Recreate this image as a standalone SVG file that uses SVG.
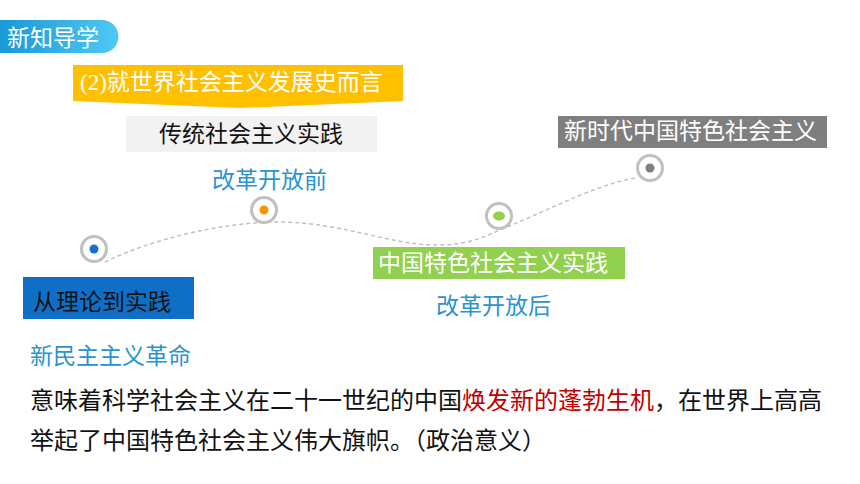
<svg xmlns="http://www.w3.org/2000/svg" width="860" height="484" viewBox="0 0 860 484">
<defs>
<linearGradient id="tabg" x1="0" y1="0" x2="1" y2="0">
<stop offset="0" stop-color="#1a98d8"/>
<stop offset="1" stop-color="#4fc9f3"/>
</linearGradient>
<style>
.t{font-family:"Noto Sans CJK SC","Noto Sans",sans-serif;font-size:23px}
.w{fill:#ffffff}
.k{fill:#111111}
.b{fill:#2a93d0}
.ring{fill:#ffffff;stroke:#c0c0c0;stroke-width:3}
.conn{fill:none;stroke:#c0c0c0;stroke-width:1.5;stroke-dasharray:4 3}
</style>
</defs>
<rect width="860" height="484" fill="#ffffff"/>
<g id="tab">
<path d="M0,20 H102 A16.5,16.5 0 0 1 102,53 H0 Z" fill="url(#tabg)"/>
<text class="t w" x="7" y="46">新知导学</text>
</g>
<g id="banner">
<path d="M73,65 H403 V101 L240,108 L73,101 Z" fill="#ffc000"/>
<text class="t w" x="80" y="90"><tspan font-family="Liberation Serif, serif">(2)</tspan>就世界社会主义发展史而言</text>
</g>
<g id="connectors">
<path class="conn" d="M105,262 C150,240 220,222 280,222 C340,222 390,245 437,245 C470,245 485,236 500,230 C560,205 600,183 637,178"/>
</g>
<g id="node-traditional">
<rect x="126" y="116" width="251" height="36" fill="#f2f2f2"/>
<text class="t k" x="159" y="142">传统社会主义实践</text>
<text class="t b" x="212" y="188">改革开放前</text>
<circle class="ring" cx="264" cy="210" r="12.5"/>
<circle cx="264" cy="210" r="4.5" fill="#f39800"/>
</g>
<g id="node-theory">
<circle class="ring" cx="94" cy="249" r="12.5"/>
<circle cx="94" cy="249" r="4.5" fill="#1a6fc9"/>
<rect x="23" y="277" width="171" height="42" fill="#0f6fc6"/>
<text class="t k" x="33" y="310">从理论到实践</text>
</g>
<g id="node-chinese">
<circle class="ring" cx="499" cy="216" r="12.5"/>
<ellipse cx="499" cy="216" rx="6" ry="4.5" fill="#92d050"/>
<rect x="373" y="247" width="252" height="32" fill="#92d050"/>
<text class="t w" x="378" y="271">中国特色社会主义实践</text>
<text class="t b" x="436" y="314">改革开放后</text>
</g>
<g id="node-newera">
<rect x="558" y="116" width="269" height="32" fill="#7f7f7f"/>
<text class="t w" x="564" y="139">新时代中国特色社会主义</text>
<circle class="ring" cx="650" cy="168" r="12.5"/>
<circle cx="650" cy="168" r="4.5" fill="#7f7f7f"/>
</g>
<g id="body">
<text class="t b" x="30" y="364">新民主主义革命</text>
<text class="t k" x="30" y="409" style="font-size:24px">意味着科学社会主义在二十一世纪的中国<tspan fill="#c00000">焕发新的蓬勃生机</tspan>，在世界上高高</text>
<text class="t k" x="30" y="449" style="font-size:24px">举起了中国特色社会主义伟大旗帜。（政治意义）</text>
</g>
</svg>
